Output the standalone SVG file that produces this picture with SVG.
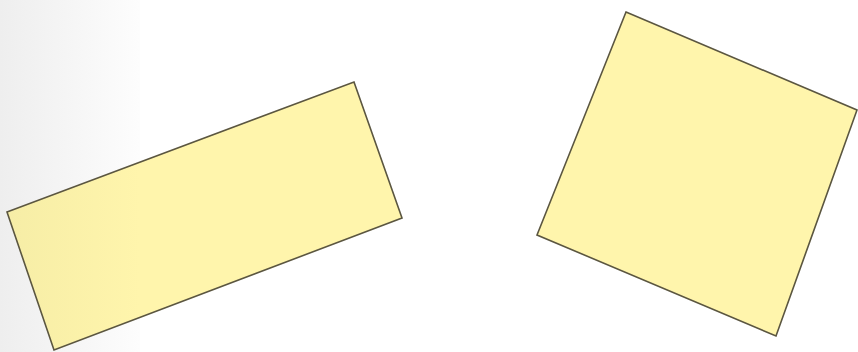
<svg xmlns="http://www.w3.org/2000/svg" width="858" height="352" viewBox="0 0 858 352">
  <defs>
    <linearGradient id="bgShade" x1="0" y1="0" x2="1" y2="0">
      <stop offset="0" stop-color="#eeeeee"/>
      <stop offset="1" stop-color="#fdfdfd"/>
    </linearGradient>
    <linearGradient id="leftFill" gradientUnits="userSpaceOnUse" x1="7" y1="0" x2="140" y2="0">
      <stop offset="0" stop-color="#f6eda6"/>
      <stop offset="1" stop-color="#fff5ac"/>
    </linearGradient>
  </defs>
  <style>
    .card { stroke: #5b5640; stroke-width: 1.6; stroke-linejoin: miter; }
    .plain { fill: #fff5ac; }
  </style>
  <rect x="0" y="0" width="858" height="352" fill="#ffffff"/>
  <rect x="0" y="0" width="140" height="352" fill="url(#bgShade)"/>
  <g id="rect-left">
    <polygon class="card" fill="url(#leftFill)" points="7,212 354,82 402,218 54,350"/>
  </g>
  <g id="rect-right">
    <polygon class="card plain" points="626,12 857,110 776,336 537,235"/>
  </g>
  <g id="connectors"/>
</svg>
